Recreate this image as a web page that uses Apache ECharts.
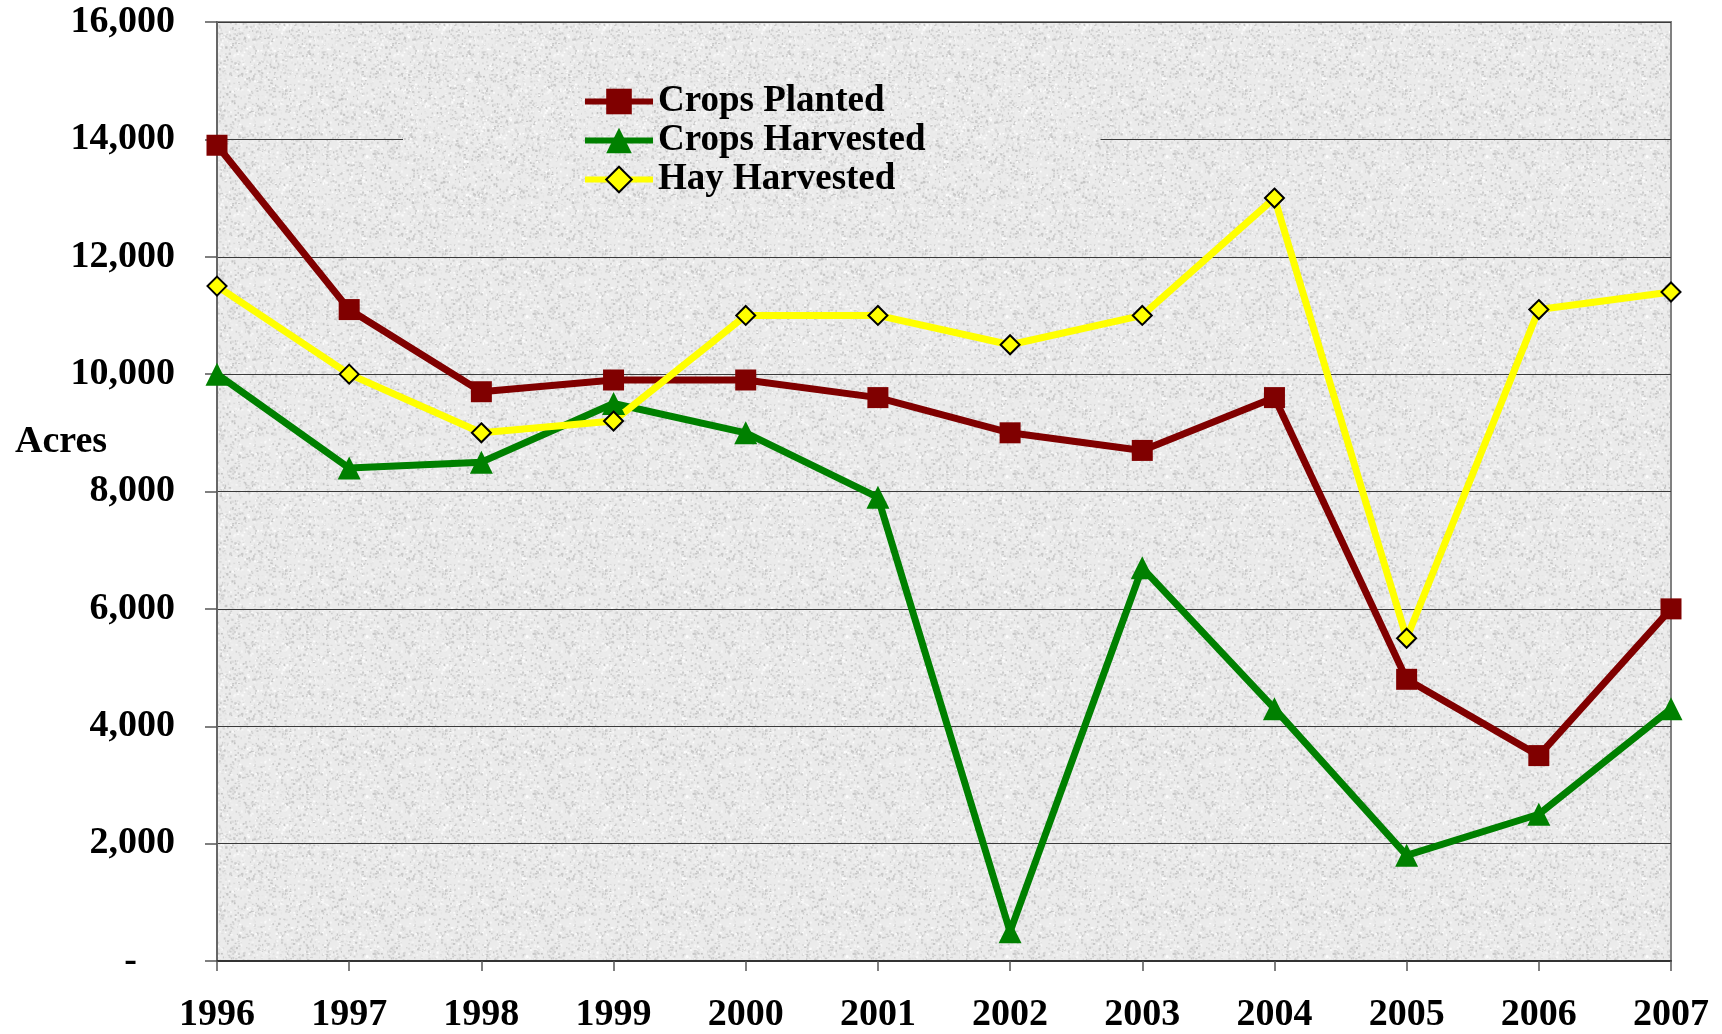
<!DOCTYPE html>
<html lang="en">
<head>
    <meta charset="UTF-8">
    <title>Acres Planted and Harvested, 1996-2007</title>
    <style>
        * {
            margin: 0;
            padding: 0;
            box-sizing: border-box;
        }

        body {
            background-color: #ffffff;
        }

        #chart {
            width: 1722px;
            height: 1034px;
        }
    </style>
</head>
<body>
    <div id="chart"></div>

    <script src="https://cdn.jsdelivr.net/npm/echarts@6/dist/echarts.min.js"></script>
    <script>
        // data
        const years = ['1996', '1997', '1998', '1999', '2000', '2001', '2002', '2003', '2004', '2005', '2006', '2007'];
        const cropsPlanted = [13900, 11100, 9700, 9900, 9900, 9600, 9000, 8700, 9600, 4800, 3500, 6000];
        const cropsHarvested = [10000, 8400, 8500, 9500, 9000, 7900, 500, 6700, 4300, 1800, 2500, 4300];
        const hayHarvested = [11500, 10000, 9000, 9200, 11000, 11000, 10500, 11000, 13000, 5500, 11100, 11400];
        const yTicks = [0, 2000, 4000, 6000, 8000, 10000, 12000, 14000, 16000];

        const font = '"Liberation Serif", "Times New Roman", serif';

        // granite-like fill for the plot area (fixed speckle pattern, decoration only)
        function makeGranite() {
            const c = document.createElement('canvas');
            c.width = 160;
            c.height = 160;
            const ctx = c.getContext('2d');
            ctx.fillStyle = '#ebebeb';
            ctx.fillRect(0, 0, 160, 160);
            let seed = 12345;
            const next = () => {
                seed = (seed * 1103515245 + 12345) & 0x7fffffff;
                return seed / 0x7fffffff;
            };
            for (let i = 0; i < 3600; i++) {
                const x = next() * 160;
                const y = next() * 160;
                const g = Math.floor(195 + next() * 60);
                ctx.fillStyle = 'rgb(' + g + ',' + g + ',' + g + ')';
                ctx.fillRect(x, y, 1 + next() * 1.5, 1 + next() * 1.5);
            }
            return { image: c, repeat: 'repeat' };
        }
        const plotBg = makeGranite();

        const chart = echarts.init(document.getElementById('chart'));

        const option = {
            backgroundColor: '#ffffff',
            animation: false,
            grid: {
                left: 217,
                right: 51,
                top: 22,
                bottom: 73,
                show: true,
                backgroundColor: plotBg,
                borderColor: '#808080',
                borderWidth: 2
            },
            legend: {
                orient: 'vertical',
                left: 403,
                top: 74,
                padding: [9, 175, 6, 179],
                backgroundColor: plotBg,
                itemWidth: 68,
                itemHeight: 32,
                itemGap: 2,
                itemTextGap: 7,
                lineStyle: { width: 6 },
                textStyle: {
                    fontFamily: font,
                    fontWeight: 'bold',
                    fontSize: 37,
                    color: '#000'
                },
                data: ['Crops Planted', 'Crops Harvested', 'Hay Harvested']
            },
            graphic: [{
                type: 'text',
                left: 15,
                top: 423,
                style: {
                    text: 'Acres',
                    font: 'bold 38px ' + font,
                    fill: '#000'
                }
            }],
            xAxis: {
                type: 'category',
                data: years,
                boundaryGap: false,
                axisLine: { lineStyle: { color: '#333', width: 2 } },
                axisTick: { show: true, length: 10, alignWithLabel: true, lineStyle: { color: '#555', width: 1.5 } },
                axisLabel: {
                    margin: 35,
                    fontFamily: font,
                    fontWeight: 'bold',
                    fontSize: 38,
                    color: '#000'
                },
                splitLine: { show: false }
            },
            yAxis: {
                type: 'value',
                min: yTicks[0],
                max: yTicks[yTicks.length - 1],
                interval: 2000,
                axisLine: { show: true, lineStyle: { color: '#666', width: 2 } },
                axisTick: { show: true, length: 12, lineStyle: { color: '#555', width: 1.5 } },
                axisLabel: {
                    margin: 42,
                    fontFamily: font,
                    fontWeight: 'bold',
                    fontSize: 38,
                    color: '#000',
                    formatter: function (v) {
                        if (v === 0) return '{dash|-}';
                        return v.toLocaleString('en-US');
                    },
                    rich: {
                        dash: {
                            fontFamily: font,
                            fontWeight: 'bold',
                            fontSize: 38,
                            color: '#000',
                            padding: [0, 38, 0, 0]
                        }
                    }
                },
                splitLine: { show: true, lineStyle: { color: '#3a3a3a', width: 1 } }
            },
            series: [
                {
                    name: 'Crops Planted',
                    type: 'line',
                    data: cropsPlanted,
                    symbol: 'rect',
                    symbolSize: 21,
                    lineStyle: { color: '#800000', width: 7 },
                    itemStyle: { color: '#800000' }
                },
                {
                    name: 'Crops Harvested',
                    type: 'line',
                    data: cropsHarvested,
                    symbol: 'triangle',
                    symbolSize: 23,
                    lineStyle: { color: '#008000', width: 7 },
                    itemStyle: { color: '#008000' }
                },
                {
                    name: 'Hay Harvested',
                    type: 'line',
                    data: hayHarvested,
                    symbol: 'diamond',
                    symbolSize: 19,
                    lineStyle: { color: '#ffff00', width: 7 },
                    itemStyle: { color: '#ffff00', borderColor: '#000', borderWidth: 2 }
                }
            ]
        };

        chart.setOption(option);
    </script>
</body>
</html>
